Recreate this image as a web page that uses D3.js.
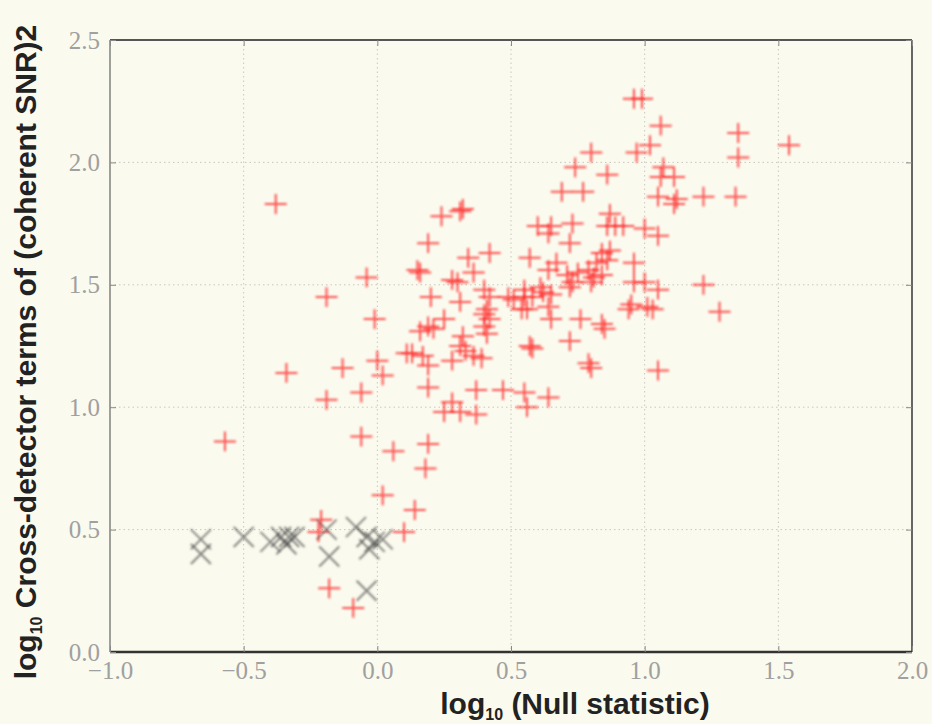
<!DOCTYPE html>
<html lang="en">
<head>
<meta charset="UTF-8">
<title>Null statistic vs cross-detector terms</title>
<script src="https://cdn.jsdelivr.net/npm/d3@7/dist/d3.min.js"></script>
<style>
  body, html {
    margin: 0;
    background: #fafaee;
  }
  svg { display: block; }
</style>
</head>
<body>
<svg width="932" height="724"></svg>
<script>
// red "+" points: log10 null statistic, log10 cross-detector terms
const plusX = [0.96,0.99,1.06,1.35,1.54,1.35,1.02,0.97,0.80,0.74,0.86,1.07,1.06,1.11,0.69,0.77,1.05,1.12,1.11,1.22,
  1.34,0.87,0.73,0.86,0.89,0.92,1.00,1.05,0.60,0.65,0.64,0.72,0.24,0.31,0.32,0.19,0.42,0.34,0.57,0.67,
  0.64,0.84,0.87,0.82,0.86,0.96,0.15,0.16,-0.04,0.36,0.28,0.30,0.71,0.75,0.79,0.81,0.84,0.72,0.73,0.80,
  0.96,1.00,1.05,1.22,0.40,0.42,0.61,0.55,0.49,0.51,0.55,0.58,0.62,0.65,0.31,0.20,-0.19,0.54,0.56,0.64,
  0.41,0.40,0.42,0.95,0.94,1.01,1.03,1.28,0.25,-0.01,0.65,0.76,0.84,0.85,0.40,0.41,0.19,0.21,0.16,0.32,
  0.31,0.33,0.57,0.58,0.72,0.11,0.13,0.17,0.28,0.36,0.39,0.79,0.80,1.05,0.19,0.00,0.02,-0.13,-0.34,0.19,
  0.37,0.47,0.55,0.64,0.28,0.25,0.31,0.37,0.56,-0.19,-0.06,-0.57,-0.06,0.06,0.19,0.18,0.02,0.14,0.10,-0.21,
  -0.22,-0.18,-0.09,-0.38];
const plusY = [2.26,2.26,2.15,2.12,2.07,2.02,2.07,2.04,2.04,1.98,1.95,1.98,1.94,1.94,1.88,1.88,1.86,1.85,1.83,1.86,
  1.86,1.79,1.75,1.74,1.74,1.74,1.73,1.70,1.74,1.74,1.71,1.67,1.78,1.80,1.81,1.67,1.63,1.61,1.61,1.59,
  1.56,1.63,1.64,1.59,1.60,1.59,1.56,1.55,1.53,1.55,1.52,1.51,1.54,1.55,1.56,1.53,1.54,1.49,1.51,1.51,
  1.51,1.51,1.48,1.50,1.48,1.45,1.49,1.48,1.45,1.44,1.45,1.45,1.47,1.46,1.43,1.45,1.45,1.40,1.40,1.41,
  1.40,1.38,1.36,1.42,1.40,1.41,1.40,1.39,1.36,1.36,1.36,1.36,1.34,1.32,1.33,1.30,1.33,1.32,1.31,1.29,
  1.25,1.23,1.25,1.24,1.27,1.22,1.22,1.21,1.19,1.21,1.20,1.18,1.16,1.15,1.17,1.19,1.13,1.16,1.14,1.08,
  1.07,1.07,1.06,1.04,1.02,0.98,0.98,0.97,1.00,1.03,1.06,0.86,0.88,0.82,0.85,0.75,0.64,0.58,0.49,0.54,
  0.49,0.26,0.18,1.83];

// grey "x" points
const crossX = [-0.66,-0.66,-0.50,-0.40,-0.36,-0.33,-0.34,-0.31,-0.19,-0.18,-0.08,-0.04,-0.01,0.02,-0.03,-0.04];
const crossY = [0.46,0.40,0.47,0.45,0.47,0.47,0.44,0.47,0.50,0.39,0.51,0.47,0.45,0.46,0.42,0.25];

const xTicks = [-1.0,-0.5,0.0,0.5,1.0,1.5,2.0];
const yTicks = [0.0,0.5,1.0,1.5,2.0,2.5];

(function(){
  const svg = d3.select('svg');
  const pl = 110, pr = 912, pt = 40, pb = 652;
  const x = d3.scaleLinear().domain([-1,2]).range([pl,pr]);
  const y = d3.scaleLinear().domain([0,2.5]).range([pb,pt]);
  const fmt = v => d3.format('.1f')(v).replace('-', '\u2212');

  // grid
  const grid = svg.append('g').attr('stroke','#c8c8c0').attr('stroke-width',1).attr('stroke-dasharray','1.5,3');
  grid.selectAll('.gx').data(xTicks.slice(1,-1)).enter().append('line')
    .attr('x1',d=>x(d)).attr('x2',d=>x(d)).attr('y1',pt).attr('y2',pb);
  grid.selectAll('.gy').data(yTicks.slice(1,-1)).enter().append('line')
    .attr('y1',d=>y(d)).attr('y2',d=>y(d)).attr('x1',pl).attr('x2',pr);

  // markers
  const blur = svg.append('defs').append('filter').attr('id','soft');
  blur.append('feGaussianBlur').attr('stdDeviation',0.8);

  const s = 11;
  const pts = svg.append('g').attr('filter','url(#soft)');
  pts.append('g').attr('stroke','#ff1a1a').attr('stroke-opacity',0.75).attr('stroke-width',2)
    .selectAll('path').data(plusX.map((v,i)=>[v,plusY[i]])).enter().append('path')
    .attr('d',d=>`M${x(d[0])-s},${y(d[1])}h${2*s}M${x(d[0])},${y(d[1])-s*0.9}v${1.8*s}`);
  pts.append('g').attr('stroke','#444').attr('stroke-opacity',0.62).attr('stroke-width',2)
    .selectAll('path').data(crossX.map((v,i)=>[v,crossY[i]])).enter().append('path')
    .attr('d',d=>{const cx=x(d[0]),cy=y(d[1]),r=10;
      return `M${cx-r},${cy-r}L${cx+r},${cy+r}M${cx-r},${cy+r}L${cx+r},${cy-r}`;});

  // frame
  svg.append('line').attr('x1',pl).attr('x2',pl).attr('y1',pt).attr('y2',pb).attr('stroke','#a0a09a').attr('stroke-width',2);
  svg.append('line').attr('x1',pr).attr('x2',pr).attr('y1',pt).attr('y2',pb).attr('stroke','#666').attr('stroke-width',2);
  svg.append('line').attr('x1',pl).attr('x2',pr).attr('y1',pt).attr('y2',pt).attr('stroke','#555').attr('stroke-width',2);
  svg.append('line').attr('x1',pl).attr('x2',pr).attr('y1',pb).attr('y2',pb).attr('stroke','#333').attr('stroke-width',2.5);

  // axes with inward ticks
  const tickFont = g => g.selectAll('text').attr('font-family','"Liberation Serif", "DejaVu Serif", serif')
    .attr('font-size',25).attr('fill','#a0a0a0');
  const xAxis = svg.append('g').attr('transform',`translate(0,${pb})`)
    .call(d3.axisBottom(x).tickValues(xTicks).tickFormat(fmt).tickSizeInner(-6).tickSizeOuter(0).tickPadding(9));
  xAxis.select('.domain').remove();
  xAxis.selectAll('line').attr('stroke','#888');
  xAxis.call(tickFont);
  const yAxis = svg.append('g').attr('transform',`translate(${pl},0)`)
    .call(d3.axisLeft(y).tickValues(yTicks).tickFormat(fmt).tickSizeInner(-6).tickSizeOuter(0).tickPadding(10));
  yAxis.select('.domain').remove();
  yAxis.selectAll('line').attr('stroke','#888');
  yAxis.call(tickFont);
  // mirrored ticks on top and right
  svg.append('g').attr('transform',`translate(0,${pt})`)
    .call(d3.axisTop(x).tickValues(xTicks).tickFormat('').tickSizeInner(-6).tickSizeOuter(0))
    .call(g=>{g.select('.domain').remove();g.selectAll('line').attr('stroke','#888');});
  svg.append('g').attr('transform',`translate(${pr},0)`)
    .call(d3.axisRight(y).tickValues(yTicks).tickFormat('').tickSizeInner(-6).tickSizeOuter(0))
    .call(g=>{g.select('.domain').remove();g.selectAll('line').attr('stroke','#888');});

  // axis titles
  const title = svg.append('text').attr('x',575).attr('y',714).attr('text-anchor','middle')
    .attr('font-family','"Liberation Sans", Arial, sans-serif').attr('font-weight','bold')
    .attr('font-size',30).attr('fill','#222');
  title.append('tspan').text('log');
  title.append('tspan').attr('font-size',16).attr('dy',6).text('10');
  title.append('tspan').attr('dy',-6).text(' (Null statistic)');

  const ytitle = svg.append('text').attr('transform','translate(36,352) rotate(-90)').attr('text-anchor','middle')
    .attr('font-family','"Liberation Sans", Arial, sans-serif').attr('font-weight','bold')
    .attr('font-size',30).attr('fill','#222');
  ytitle.append('tspan').text('log');
  ytitle.append('tspan').attr('font-size',16).attr('dy',6).text('10');
  ytitle.append('tspan').attr('dy',-6).text(' Cross-detector terms of (coherent SNR)2');
})();
</script>
</body>
</html>
